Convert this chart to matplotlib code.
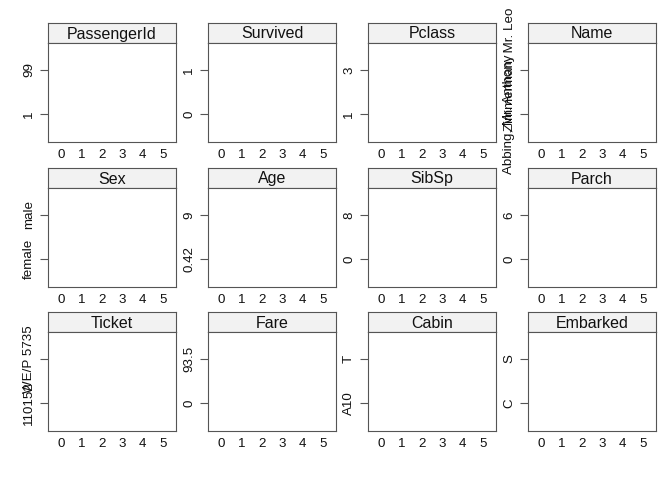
import matplotlib
matplotlib.use("Agg")
import matplotlib.pyplot as plt

plt.rcParams['font.family'] = ['Liberation Sans', 'DejaVu Sans']

panels = ["PassengerId", "Survived", "Pclass", "Name",
          "Sex", "Age", "SibSp", "Parch",
          "Ticket", "Fare", "Cabin", "Embarked"]
low_labels = ["1", "0", "1", "Abbing, Mr. Anthony",
              "female", "0.42", "0", "0",
              "110152", "0", "A10", "C"]
high_labels = ["99", "1", "3", "Zimmerman, Mr. Leo",
               "male", "9", "8", "6",
               "WE/P 5735", "93.5", "T", "S"]
x_ticks = [0, 1, 2, 3, 4, 5]

W, H = 672, 480
fig = plt.figure(figsize=(W / 100, H / 100), dpi=100)

col_left = [48, 208, 368, 528]
row_top = [23, 168, 312]
pw, strip_h, plot_h = 128, 20, 99
frame = '#555555'

for i, name in enumerate(panels):
    r, c = divmod(i, 4)
    x0 = col_left[c]
    y0 = row_top[r]

    # strip
    sax = fig.add_axes([x0 / W, 1 - (y0 + strip_h) / H, pw / W, strip_h / H])
    sax.set_facecolor('#F2F2F2')
    sax.set_xticks([])
    sax.set_yticks([])
    for s in sax.spines.values():
        s.set_color(frame)
        s.set_linewidth(0.8)
    sax.text(0.5, 0.45, name, ha='center', va='center', fontsize=11.5,
             color='#111111', transform=sax.transAxes)

    # panel
    ax = fig.add_axes([x0 / W, 1 - (y0 + strip_h + plot_h) / H, pw / W, plot_h / H])
    ax.set_xlim(-0.64, 5.64)
    ax.set_ylim(-0.62, 1.6)
    ax.set_xticks(x_ticks)
    ax.set_xticklabels([str(t) for t in x_ticks], fontsize=9.6, color='#111111')
    ax.set_yticks([0, 1])
    ax.set_yticklabels([low_labels[i], high_labels[i]], fontsize=9.6,
                       color='#111111', rotation=90, va='center')
    ax.tick_params(axis='x', length=0, pad=5)
    ax.tick_params(axis='y', length=5.8, width=0.8, color=frame, pad=3.5)
    for s in ax.spines.values():
        s.set_color(frame)
        s.set_linewidth(0.8)

fig.savefig("out.png", dpi=100)
